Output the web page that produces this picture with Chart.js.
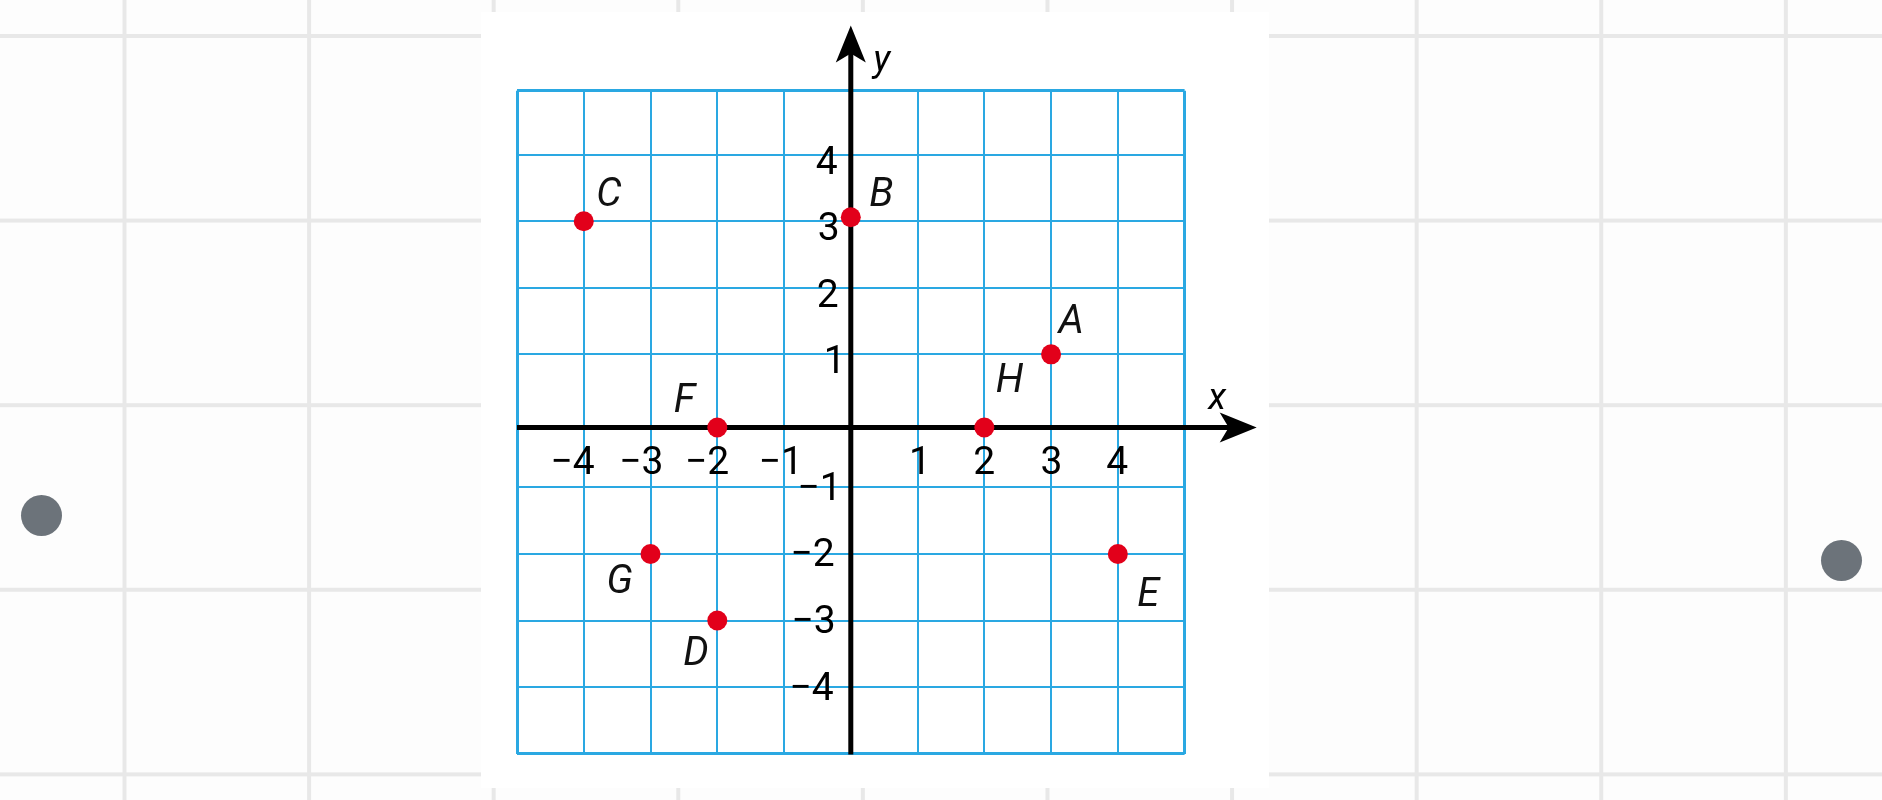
<!DOCTYPE html>
<html>
<head>
<meta charset="utf-8">
<script src="https://cdn.jsdelivr.net/npm/chart.js@4.4.1/dist/chart.umd.min.js"></script>
<style>
  html, body { margin: 0; padding: 0; }
  body {
    width: 1882px; height: 800px; overflow: hidden; position: relative;
    background-color: #fdfdfd;
    background-image:
      linear-gradient(90deg, #e8e8e8 4px, transparent 4px),
      linear-gradient(180deg, #e8e8e8 4px, transparent 4px);
    background-size: 184.6px 184.6px;
    background-position: 122.5px 34px;
  }
  #panel { position: absolute; left: 481px; top: 12px; width: 788px; height: 776px; background: #ffffff; }
  .dot { position: absolute; width: 41px; height: 41px; border-radius: 50%; background: #6c737a; }
  #c { position: absolute; left: 0; top: 0; }
</style>
</head>
<body>
<div id="panel"></div>
<div class="dot" style="left:20.5px; top:494.5px;"></div>
<div class="dot" style="left:1820.5px; top:539.5px;"></div>
<canvas id="c" width="1882" height="800"></canvas>
<script>
// ---- data ----
const pointNames = ['A', 'B', 'C', 'D', 'E', 'F', 'G', 'H'];
const xValues    = [3, 0, -4, -2, 4, -2, -3, 2];
const yValues    = [1, 3.06, 3, -3, -2, -0.1, -2, -0.1];

const xTickValues = [-4, -3, -2, -1, 1, 2, 3, 4];
const xTickLabels = ['\u22124', '\u22123', '\u22122', '\u22121', '1', '2', '3', '4'];
const yTickValues = [4, 3, 2, 1, -1, -2, -3, -4];
const yTickLabels = ['4', '3', '2', '1', '\u22121', '\u22122', '\u22123', '\u22124'];

const xGridValues = [-5, -4, -3, -2, -1, 1, 2, 3, 4, 5];
const yGridValues = [-5, -4, -3, -2, -1, 1, 2, 3, 4, 4.96];
const xMin = -5, xMax = 5, yMin = -5, yMax = 4.96;
const xAxisAtY = -0.1;        // where the horizontal axis is drawn
const xAxisTip = 6.08;        // arrow tip of x axis (data units)
const yAxisTip = 5.94;        // arrow tip of y axis (data units)

// ---- styles / layout (not data) ----
const labelOffsets = { A: [18, -36], B: [31, -26], C: [26, -30], D: [-21, 30],
                       E: [32, 38], F: [-31, -30], G: [-30, 25], H: [26, -50] };
const gridColor = '#2aa8e2';
const pointColor = '#e2001a';
const tickFont = '39px Roboto, "Open Sans", sans-serif';
const letterFont = 'italic 40px Roboto, "Open Sans", sans-serif';
const axisLetterFont = 'italic 37px Roboto, "Open Sans", sans-serif';

function textAt(ctx, text, x, y, mode) {
  const m = ctx.measureText(text);
  const asc = m.actualBoundingBoxAscent, desc = m.actualBoundingBoxDescent;
  const L = m.actualBoundingBoxLeft, R = m.actualBoundingBoxRight;
  let x0;
  if (mode === 'right') x0 = x - R;
  else x0 = x - (R - L) / 2;
  const y0 = y + (asc - desc) / 2;
  ctx.fillText(text, x0, y0);
}

const axesPlugin = {
  id: 'axesPlugin',
  beforeDatasetsDraw(chart) {
    const ctx = chart.ctx;
    const xs = chart.scales.x, ys = chart.scales.y;
    const ax = xs.getPixelForValue(0);
    const ay = ys.getPixelForValue(xAxisAtY);
    const left = xs.getPixelForValue(xMin);
    const bottom = ys.getPixelForValue(yMin);
    const xt = xs.getPixelForValue(xAxisTip);
    const yt = ys.getPixelForValue(yAxisTip);
    const len = 37, hw = 15, notch = 9;
    ctx.save();
    ctx.strokeStyle = '#000';
    ctx.fillStyle = '#000';
    ctx.lineWidth = 5;
    ctx.lineCap = 'butt';
    // x axis
    ctx.beginPath();
    ctx.moveTo(left, ay);
    ctx.lineTo(xt - len + notch + 2, ay);
    ctx.stroke();
    ctx.beginPath();
    ctx.moveTo(xt, ay);
    ctx.lineTo(xt - len, ay - hw);
    ctx.lineTo(xt - len + notch, ay);
    ctx.lineTo(xt - len, ay + hw);
    ctx.closePath();
    ctx.fill();
    // y axis
    ctx.beginPath();
    ctx.moveTo(ax, bottom + 1);
    ctx.lineTo(ax, yt + len - notch - 2);
    ctx.stroke();
    ctx.beginPath();
    ctx.moveTo(ax, yt);
    ctx.lineTo(ax - hw, yt + len);
    ctx.lineTo(ax, yt + len - notch);
    ctx.lineTo(ax + hw, yt + len);
    ctx.closePath();
    ctx.fill();

    // tick labels
    ctx.font = tickFont;
    ctx.textAlign = 'left';
    ctx.textBaseline = 'alphabetic';
    xTickValues.forEach((v, i) => {
      const px = xs.getPixelForValue(v);
      if (v < 0) textAt(ctx, xTickLabels[i], px + 11, ay + 32, 'right');
      else textAt(ctx, xTickLabels[i], px, ay + 32, 'center');
    });
    yTickValues.forEach((v, i) => {
      const py = ys.getPixelForValue(v);
      if (v > 0) textAt(ctx, yTickLabels[i], ax - 13, py + 5, 'right');
      else textAt(ctx, yTickLabels[i], ax - 17, py - 1.5, 'right');
    });

    // axis letters
    ctx.font = axisLetterFont;
    textAt(ctx, 'x', xt - 40, ay - 29, 'center');
    textAt(ctx, 'y', ax + 31, yt + 39, 'center');
    ctx.restore();
  },
  afterDatasetsDraw(chart) {
    const ctx = chart.ctx;
    const meta = chart.getDatasetMeta(0);
    ctx.save();
    ctx.font = letterFont;
    ctx.fillStyle = '#111';
    ctx.textAlign = 'left';
    ctx.textBaseline = 'alphabetic';
    meta.data.forEach((el, i) => {
      const name = pointNames[i];
      const off = labelOffsets[name];
      textAt(ctx, name, el.x + off[0], el.y + off[1], 'center');
    });
    ctx.restore();
  }
};

const points = xValues.map((x, i) => ({ x: x, y: yValues[i] }));

new Chart(document.getElementById('c'), {
  type: 'scatter',
  data: {
    datasets: [{
      label: 'points',
      data: points,
      pointRadius: 10,
      pointHoverRadius: 10,
      pointBackgroundColor: pointColor,
      pointBorderWidth: 0,
      clip: false
    }]
  },
  options: {
    responsive: false,
    animation: false,
    devicePixelRatio: 1,
    events: [],
    layout: { padding: { left: 517, right: 1882 - 1184.6, top: 90.8, bottom: 800 - 753.6 } },
    plugins: { legend: { display: false }, tooltip: { enabled: false } },
    scales: {
      x: {
        type: 'linear', min: xMin, max: xMax,
        afterBuildTicks: (s) => { s.ticks = xGridValues.map(v => ({ value: v })); },
        ticks: { display: false },
        border: { display: false },
        grid: {
          color: gridColor, drawTicks: false,
          lineWidth: (c) => (c.tick && (c.tick.value === xMin || c.tick.value === xMax)) ? 3 : 2
        }
      },
      y: {
        type: 'linear', min: yMin, max: yMax,
        afterBuildTicks: (s) => { s.ticks = yGridValues.map(v => ({ value: v })); },
        ticks: { display: false },
        border: { display: false },
        grid: {
          color: gridColor, drawTicks: false,
          lineWidth: (c) => (c.tick && (c.tick.value === yMin || c.tick.value === yMax)) ? 3 : 2
        }
      }
    }
  },
  plugins: [axesPlugin]
});
</script>
</body>
</html>
